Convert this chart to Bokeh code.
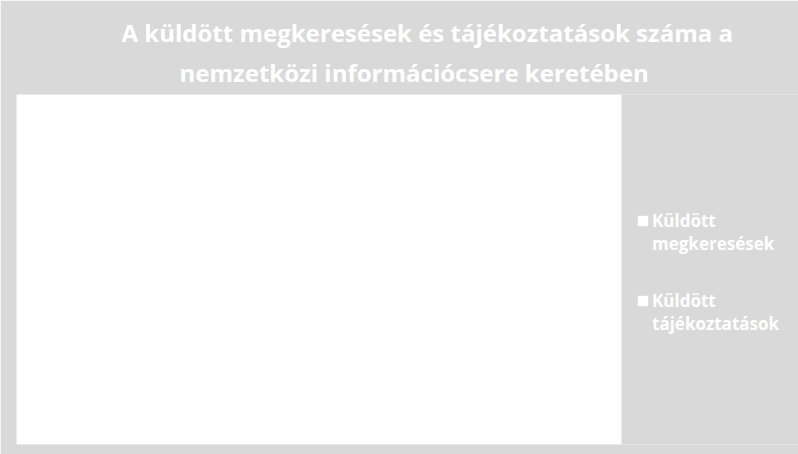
from bokeh.plotting import figure
from bokeh.models import Legend, LegendItem, ColumnDataSource, Range1d, Title, BoxAnnotation
from bokeh.embed import file_html
from bokeh.resources import INLINE

# Data: the bars in the reference are white on a white plot area, so no value can be read.
title_lines = ["A küldött megkeresések és tájékoztatások száma a",
               "nemzetközi információcsere keretében"]
series_names = ["Küldött\nmegkeresések", "Küldött\ntájékoztatások"]
positions = [float("nan")]
values_megkeresesek = [float("nan")]
values_tajekoztatasok = [float("nan")]

BG = "#d9d9d9"
FONT = "Open Sans"

p = figure(width=798, height=454, output_backend="svg", toolbar_location=None,
           x_range=Range1d(0, 782), y_range=Range1d(0, 350),
           background_fill_color=BG, border_fill_color=BG,
           min_border_left=16, min_border_right=0, min_border_top=94, min_border_bottom=10)
p.outline_line_color = None
p.xaxis.visible = False
p.yaxis.visible = False
p.xgrid.visible = False
p.ygrid.visible = False
p.title.visible = False

# white plot area
p.add_layout(BoxAnnotation(left=0, right=605, fill_color="white", fill_alpha=1,
                           line_color=None, level="underlay"))

offsets = [163, 105]
standoffs = [11, 0]
line_heights = [1.0, 1.2]
for i, line in enumerate(reversed(title_lines)):
    t = Title(text=line, align="left", text_color="white", text_font=FONT,
              text_font_style="bold", text_font_size="24px", offset=offsets[i],
              standoff=standoffs[i], text_line_height=line_heights[i])
    p.add_layout(t, "above")

src1 = ColumnDataSource(dict(x=positions, top=values_megkeresesek))
src2 = ColumnDataSource(dict(x=positions, top=values_tajekoztatasok))
r1 = p.vbar(x="x", top="top", width=40, source=src1, fill_color="white", line_color=None)
r2 = p.vbar(x="x", top="top", width=40, source=src2, fill_color="white", line_color=None)

# a leading empty line keeps the marker level with the first line of each label
legend = Legend(items=[LegendItem(label="\n" + series_names[0], renderers=[r1]),
                       LegendItem(label="\n" + series_names[1], renderers=[r2])],
                location=(620, 109), orientation="vertical",
                background_fill_alpha=0, border_line_color=None,
                label_text_color="white", label_text_font=FONT,
                label_text_font_style="bold", label_text_font_size="17px",
                label_text_line_height=1.5,
                glyph_width=13, glyph_height=13, spacing=11, padding=0,
                label_standoff=3, margin=0)
p.add_layout(legend, "center")

open("out.html", "w").write(file_html(p, INLINE))
